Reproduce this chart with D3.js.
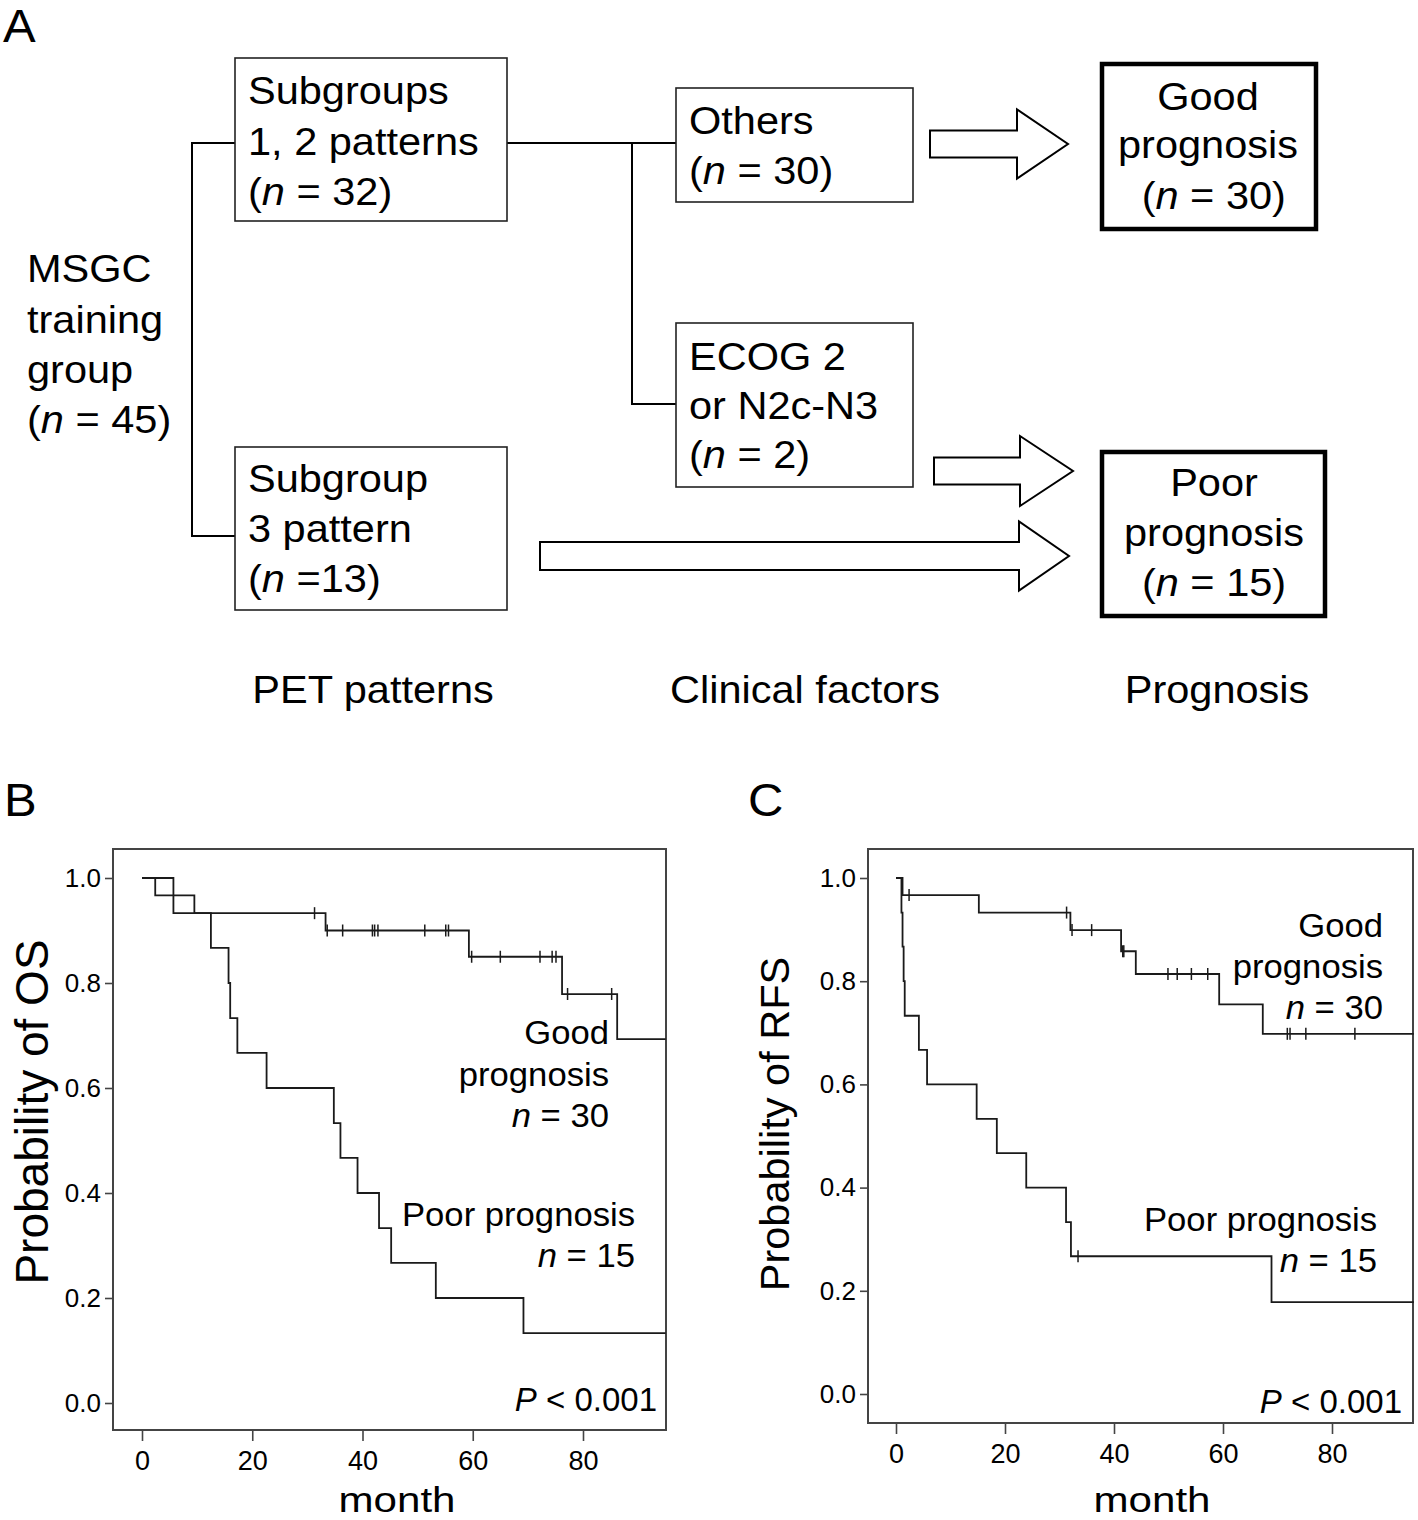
<!DOCTYPE html>
<html><head><meta charset="utf-8">
<script src="https://cdn.jsdelivr.net/npm/d3@7"></script>
<style>
body{margin:0;background:#fff}
svg{display:block}
text{font-family:"Liberation Sans",Arial,Helvetica,sans-serif;fill:#000}
</style>
</head><body>
<svg id="fig" width="1418" height="1520"></svg>
<script>
// ================= DATA =================
const panelLabels = ["A", "B", "C"];
const stageLabels = ["PET patterns", "Clinical factors", "Prognosis"];
const rootLines = ["MSGC", "training", "group", "(n = 45)"];
const pet12Lines = ["Subgroups", "1, 2 patterns", "(n = 32)"];
const pet3Lines = ["Subgroup", "3 pattern", "(n =13)"];
const othersLines = ["Others", "(n = 30)"];
const ecogLines = ["ECOG 2", "or N2c-N3", "(n = 2)"];
const goodLines = ["Good", "prognosis", " (n = 30)"];
const poorLines = ["Poor", "prognosis", "(n = 15)"];

const yTicks = [0.0, 0.2, 0.4, 0.6, 0.8, 1.0];
const xTicks = [0, 20, 40, 60, 80];
const maxMonth = 95;
const pLabel = "< 0.001";
const xTitle = "month";
const yTitleOS = "Probability of OS";
const yTitleRFS = "Probability of RFS";
const goodCurveLabel = ["Good", "prognosis", "n = 30"];
const poorCurveLabel = ["Poor prognosis", "n = 15"];

// Overall survival (panel B)
const osGoodTimes = [0, 2.4, 9.5, 33.3, 59.3, 76.2, 86.2];
const osGoodSurv  = [1.0, 0.967, 0.933, 0.900, 0.850, 0.779, 0.693];
const osGoodCensor = [31.3, 33.6, 36.4, 41.8, 42.2, 42.8, 51.3, 55.1, 55.6, 59.8, 65.0, 72.2, 74.4, 75.1, 77.2, 85.2];
const osPoorTimes = [0, 5.7, 12.5, 15.7, 16.0, 17.3, 22.6, 34.8, 36.0, 39.1, 43.0, 45.2, 53.3, 69.2];
const osPoorSurv  = [1.0, 0.933, 0.867, 0.800, 0.733, 0.667, 0.600, 0.533, 0.467, 0.400, 0.333, 0.267, 0.200, 0.133];
const osPoorCensor = [];

// Relapse-free survival (panel C)
const rfsGoodTimes = [0, 1.2, 15.2, 32.0, 41.3, 44.0, 59.3, 67.3];
const rfsGoodSurv  = [1.0, 0.967, 0.933, 0.899, 0.858, 0.814, 0.755, 0.698];
const rfsGoodCensor = [2.4, 31.3, 32.3, 35.9, 41.6, 41.8, 49.9, 51.6, 54.2, 57.2, 71.8, 72.3, 75.2, 84.2];
const rfsPoorTimes = [0, 1.0, 1.2, 1.4, 1.6, 4.2, 5.7, 14.8, 18.5, 23.9, 31.2, 32.1, 68.9];
const rfsPoorSurv  = [1.0, 0.933, 0.867, 0.800, 0.733, 0.667, 0.600, 0.533, 0.467, 0.400, 0.333, 0.267, 0.178];
const rfsPoorCensor = [33.4];

// ================= DRAWING =================
const svg = d3.select("#fig");
svg.append("rect").attr("width", 1418).attr("height", 1520).attr("fill", "#fff");

const SX = 1.065; // horizontal stretch of the original lettering

// rich text helper: italic "n"
function addLine(sel, str) {
  const m = str.match(/^(\s*\(?)(n)(\s*=.*)$/);
  if (m) {
    sel.append("tspan").text(m[1]);
    sel.append("tspan").attr("font-style", "italic").text(m[2]);
    sel.append("tspan").text(m[3]);
  } else sel.text(str);
}
function stretchedText(g, x, y, size, anchor, sx) {
  return g.append("text").attr("x", 0).attr("y", 0)
    .attr("transform", `translate(${x},${y}) scale(${sx || SX},1)`)
    .attr("font-size", size).attr("text-anchor", anchor || "start")
    .attr("xml:space", "preserve").style("white-space", "pre");
}
function textBlock(g, lines, x, baselines, size, anchor, sx) {
  lines.forEach((l, i) => addLine(stretchedText(g, x, baselines[i], size, anchor, sx), l));
}

// ---------- Panel A ----------
const A = svg.append("g");
stretchedText(A, 3, 42, 46).text(panelLabels[0]);

const fs = 39;
function box(x0, y0, x1, y1, w) {
  A.append("rect").attr("x", x0).attr("y", y0).attr("width", x1 - x0).attr("height", y1 - y0)
    .attr("fill", "#fff").attr("stroke", w > 2 ? "#000" : "#222").attr("stroke-width", w);
}
function line(pts) {
  A.append("path").attr("d", d3.line()(pts)).attr("fill", "none")
    .attr("stroke", "#000").attr("stroke-width", 2);
}
function arrow(x0, x1, cy, shaftH, headH, headX) {
  const p = [[x0, cy - shaftH / 2], [headX, cy - shaftH / 2], [headX, cy - headH / 2], [x1, cy],
             [headX, cy + headH / 2], [headX, cy + shaftH / 2], [x0, cy + shaftH / 2]];
  A.append("path").attr("d", d3.line()(p) + "Z").attr("fill", "#fff")
    .attr("stroke", "#000").attr("stroke-width", 2).attr("stroke-linejoin", "miter");
}

// connectors
line([[235, 143], [192, 143], [192, 536], [235, 536]]);
line([[507, 143], [676, 143]]);
line([[632, 143], [632, 404], [676, 404]]);

// boxes
box(235, 58, 507, 221, 1.6);
box(235, 447, 507, 610, 1.6);
box(676, 88, 913, 202, 1.6);
box(676, 323, 913, 487, 1.6);
box(1102, 64, 1316, 229, 4.5);
box(1102, 452, 1325, 616, 4.5);

// arrows
arrow(930, 1068, 144, 27, 69, 1017);
arrow(934, 1073, 471, 27, 70, 1020);
arrow(540, 1069, 556, 28, 69, 1019);

// texts
textBlock(A, rootLines, 27, [282, 333, 383, 433], fs);
textBlock(A, pet12Lines, 248, [104, 155, 205], fs);
textBlock(A, pet3Lines, 248, [492, 542, 592], fs);
textBlock(A, othersLines, 689, [134, 184], fs);
textBlock(A, ecogLines, 689, [370, 419, 468], fs);
textBlock(A, goodLines, 1208, [110, 158, 209], fs, "middle");
textBlock(A, poorLines, 1214, [496, 546, 596], fs, "middle");
[373, 805, 1217].forEach((cx, i) => {
  stretchedText(A, cx, 703, fs, "middle").text(stageLabels[i]);
});

// ---------- KM panels ----------
function survAt(times, surv, t) {
  let s = surv[0];
  for (let i = 0; i < times.length; i++) if (times[i] <= t) s = surv[i];
  return s;
}
function kmPanel(cfg) {
  const g = svg.append("g");
  const x = d3.scaleLinear().domain([0, 80]).range([cfg.x0, cfg.x80]);
  const y = d3.scaleLinear().domain([0, 1]).range([cfg.y0, cfg.y1]);
  const f = cfg.frame;

  stretchedText(g, cfg.labelX, 816, 46).text(cfg.label);

  // frame
  g.append("rect").attr("x", f.l).attr("y", f.t).attr("width", f.r - f.l).attr("height", f.b - f.t)
    .attr("fill", "none").attr("stroke", "#444").attr("stroke-width", 2);

  // y axis
  const ya = g.append("g").attr("transform", `translate(${f.l},0)`)
    .call(d3.axisLeft(y).tickValues(yTicks).tickFormat(d3.format(".1f")).tickSize(8).tickPadding(4));
  ya.select(".domain").remove();
  ya.selectAll("line").attr("stroke", "#444").attr("stroke-width", 1.6);
  ya.selectAll("text").attr("font-size", 26).attr("fill", "#000")
    .style("font-family", '"Liberation Sans",Arial,sans-serif');

  // x axis
  const xa = g.append("g").attr("transform", `translate(0,${f.b})`)
    .call(d3.axisBottom(x).tickValues(xTicks).tickFormat(d3.format("d")).tickSize(11).tickPadding(10));
  xa.select(".domain").remove();
  xa.selectAll("line").attr("stroke", "#444").attr("stroke-width", 1.6);
  xa.selectAll("text").attr("font-size", 27).attr("fill", "#000")
    .style("font-family", '"Liberation Sans",Arial,sans-serif');

  // titles
  stretchedText(g, cfg.titleX, 1512, 36, "middle", 1.17).text(xTitle);
  g.append("text").attr("transform", `translate(${cfg.yTitleX},${cfg.yTitleY}) rotate(-90)`)
    .attr("font-size", cfg.yTitleSize).attr("text-anchor", "middle").text(cfg.yTitle);

  // curves
  const lineGen = d3.line().x(d => x(d[0])).y(d => y(d[1])).curve(d3.curveStepAfter);
  cfg.curves.forEach(c => {
    const pts = c.times.map((t, i) => [t, c.surv[i]]);
    pts.push([maxMonth, c.surv[c.surv.length - 1]]);
    g.append("path").attr("d", lineGen(pts)).attr("fill", "none")
      .attr("stroke", "#1a1a1a").attr("stroke-width", 1.8);
    g.selectAll(null).data(c.censor).enter().append("line")
      .attr("x1", d => x(d)).attr("x2", d => x(d))
      .attr("y1", d => y(survAt(c.times, c.surv, d)) - 6)
      .attr("y2", d => y(survAt(c.times, c.surv, d)) + 6)
      .attr("stroke", "#1a1a1a").attr("stroke-width", 1.5);
  });

  // curve labels
  textBlock(g, goodCurveLabel, cfg.goodX, cfg.goodY, 33, "end", 1.05);
  textBlock(g, poorCurveLabel, cfg.poorX, cfg.poorY, 33, "end", 1.05);

  // p value
  const pt = stretchedText(g, cfg.pX, cfg.pY, 33, "end", 1.0);
  pt.append("tspan").attr("font-style", "italic").text("P");
  pt.append("tspan").text(" " + pLabel);
}

kmPanel({
  label: panelLabels[1], labelX: 4,
  x0: 142, x80: 583, y0: 1403, y1: 878,
  frame: {l: 113, r: 666, t: 849, b: 1430},
  titleX: 397, yTitle: yTitleOS, yTitleX: 48, yTitleY: 1112, yTitleSize: 46,
  curves: [
    {times: osGoodTimes, surv: osGoodSurv, censor: osGoodCensor},
    {times: osPoorTimes, surv: osPoorSurv, censor: osPoorCensor}
  ],
  goodX: 609, goodY: [1044, 1086, 1127],
  poorX: 635, poorY: [1226, 1267],
  pX: 657, pY: 1411
});

kmPanel({
  label: panelLabels[2], labelX: 748,
  x0: 896, x80: 1332, y0: 1394, y1: 878,
  frame: {l: 868, r: 1413, t: 849, b: 1423},
  titleX: 1152, yTitle: yTitleRFS, yTitleX: 789, yTitleY: 1124, yTitleSize: 41.5,
  curves: [
    {times: rfsGoodTimes, surv: rfsGoodSurv, censor: rfsGoodCensor},
    {times: rfsPoorTimes, surv: rfsPoorSurv, censor: rfsPoorCensor}
  ],
  goodX: 1383, goodY: [937, 978, 1019],
  poorX: 1377, poorY: [1231, 1272],
  pX: 1402, pY: 1413
});
</script>
</body></html>
